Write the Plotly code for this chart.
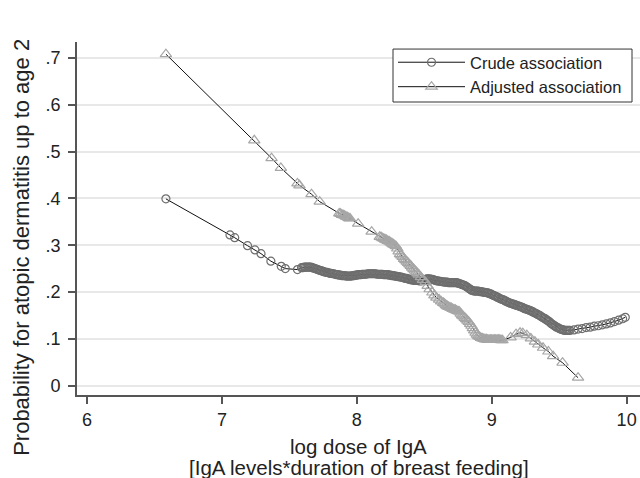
import plotly.graph_objects as go

# Crude association: log dose of IgA vs. predicted probability
crude_x = [
    6.585, 7.060, 7.095, 7.190, 7.245, 7.290, 7.363, 7.440, 7.470, 7.560, 7.590,
    7.60, 7.61, 7.62, 7.63, 7.64, 7.65, 7.66, 7.67, 7.68, 7.69,
    7.70, 7.71, 7.72, 7.73, 7.74, 7.75, 7.76, 7.77, 7.78, 7.79,
    7.80, 7.81, 7.82, 7.83, 7.84, 7.85, 7.86, 7.87, 7.88, 7.89,
    7.90, 7.91, 7.92, 7.93, 7.94, 7.95, 7.96, 7.97, 7.98, 7.99,
    8.00, 8.01, 8.02, 8.03, 8.04, 8.05, 8.06, 8.07, 8.08, 8.09,
    8.10, 8.11, 8.12, 8.13, 8.14, 8.15, 8.16, 8.17, 8.18, 8.19,
    8.20, 8.21, 8.22, 8.23, 8.24, 8.25, 8.26, 8.27, 8.28, 8.29,
    8.30, 8.31, 8.32, 8.33, 8.34, 8.35, 8.36, 8.37, 8.38, 8.39,
    8.40, 8.41, 8.42, 8.43, 8.44, 8.45, 8.46, 8.47, 8.48, 8.49,
    8.50, 8.51, 8.52, 8.53, 8.54, 8.55, 8.56, 8.57, 8.58, 8.59,
    8.60, 8.61, 8.62, 8.63, 8.64, 8.65, 8.66, 8.67, 8.68, 8.69,
    8.70, 8.71, 8.72, 8.73, 8.74, 8.75, 8.76, 8.77, 8.78, 8.79,
    8.80, 8.81, 8.82, 8.83, 8.84, 8.85, 8.86, 8.87, 8.88, 8.89,
    8.90, 8.91, 8.92, 8.93, 8.94, 8.95, 8.96, 8.97, 8.98, 8.99,
    9.00, 9.01, 9.02, 9.03, 9.04, 9.05, 9.06, 9.07, 9.08, 9.09,
    9.10, 9.11, 9.12, 9.13, 9.14, 9.15, 9.16, 9.17, 9.18, 9.19,
    9.20, 9.21, 9.22, 9.23, 9.24, 9.25, 9.26, 9.27, 9.28, 9.29,
    9.30, 9.31, 9.32, 9.33, 9.34, 9.35, 9.36, 9.37, 9.38, 9.39,
    9.40, 9.41, 9.42, 9.43, 9.44, 9.45, 9.46, 9.47, 9.48, 9.49,
    9.50, 9.51, 9.52, 9.53, 9.54, 9.55, 9.56, 9.57, 9.58,
    9.61, 9.64, 9.67, 9.70, 9.73, 9.76, 9.79, 9.82, 9.85, 9.88,
    9.91, 9.94, 9.97, 9.99,
]
crude_y = [
    0.399, 0.322, 0.316, 0.299, 0.290, 0.282, 0.266, 0.255, 0.250, 0.248, 0.252,
    0.252, 0.253, 0.253, 0.253, 0.253, 0.253, 0.253, 0.252, 0.251, 0.250,
    0.249, 0.248, 0.247, 0.246, 0.245, 0.244, 0.243, 0.242, 0.242, 0.241,
    0.240, 0.240, 0.239, 0.239, 0.238, 0.237, 0.237, 0.236, 0.236, 0.235,
    0.235, 0.235, 0.234, 0.234, 0.234, 0.234, 0.234, 0.235, 0.235, 0.236,
    0.236, 0.237, 0.237, 0.237, 0.238, 0.238, 0.238, 0.238, 0.239, 0.239,
    0.239, 0.239, 0.239, 0.239, 0.239, 0.238, 0.238, 0.238, 0.238, 0.238,
    0.237, 0.237, 0.237, 0.237, 0.236, 0.236, 0.235, 0.235, 0.234, 0.234,
    0.233, 0.233, 0.232, 0.232, 0.231, 0.230, 0.229, 0.229, 0.228, 0.227,
    0.226, 0.226, 0.225, 0.225, 0.225, 0.225, 0.224, 0.224, 0.224, 0.225,
    0.226, 0.227, 0.228, 0.228, 0.228, 0.227, 0.227, 0.226, 0.225, 0.224,
    0.224, 0.223, 0.223, 0.222, 0.222, 0.221, 0.221, 0.221, 0.220, 0.220,
    0.220, 0.220, 0.220, 0.220, 0.220, 0.219, 0.218, 0.217, 0.216, 0.215,
    0.214, 0.212, 0.210, 0.208, 0.206, 0.204, 0.203, 0.202, 0.202, 0.202,
    0.202, 0.201, 0.201, 0.200, 0.200, 0.199, 0.199, 0.198, 0.197, 0.196,
    0.195, 0.193, 0.192, 0.191, 0.189, 0.188, 0.186, 0.185, 0.184, 0.183,
    0.181, 0.180, 0.178, 0.177, 0.176, 0.175, 0.174, 0.173, 0.172, 0.171,
    0.170, 0.169, 0.168, 0.167, 0.165, 0.164, 0.163, 0.162, 0.161, 0.160,
    0.158, 0.157, 0.155, 0.154, 0.152, 0.151, 0.149, 0.147, 0.145, 0.144,
    0.142, 0.140, 0.138, 0.136, 0.133, 0.131, 0.129, 0.127, 0.125, 0.124,
    0.122, 0.121, 0.120, 0.119, 0.118, 0.118, 0.118, 0.118, 0.118,
    0.119, 0.121, 0.122, 0.124, 0.125, 0.127, 0.128, 0.130, 0.132, 0.134,
    0.137, 0.140, 0.143, 0.146,
]

# Adjusted association
adj_x = [
    6.585, 7.240, 7.368, 7.437, 7.560, 7.575, 7.664, 7.725,
    7.870, 7.880, 7.890, 7.900, 7.910, 7.920, 7.930, 7.940, 7.950,
    8.010, 8.110, 8.170, 8.180, 8.190, 8.200, 8.210, 8.220, 8.230,
    8.240, 8.250, 8.260, 8.270, 8.280, 8.290, 8.300, 8.310, 8.320,
    8.330, 8.340, 8.350, 8.360, 8.370, 8.380, 8.390, 8.400, 8.410,
    8.420, 8.430, 8.440, 8.450, 8.460, 8.475, 8.490, 8.510, 8.525,
    8.540, 8.560, 8.575, 8.590, 8.610, 8.625, 8.640, 8.650, 8.660,
    8.670, 8.680, 8.690, 8.700, 8.710, 8.720, 8.730, 8.740, 8.750,
    8.760, 8.770, 8.780, 8.790, 8.800, 8.810, 8.820, 8.830, 8.840,
    8.850, 8.860, 8.870, 8.880, 8.890, 8.900, 8.910, 8.920, 8.930,
    8.940, 8.950, 8.960, 8.970, 8.980, 8.990, 9.000, 9.010, 9.020,
    9.030, 9.040, 9.050, 9.060, 9.070, 9.080, 9.140, 9.180, 9.210,
    9.230, 9.260, 9.290, 9.320, 9.345, 9.380, 9.420, 9.455, 9.525,
    9.640,
]
adj_y = [
    0.708, 0.524, 0.486, 0.465, 0.432, 0.428, 0.409, 0.393,
    0.368, 0.367, 0.365, 0.364, 0.363, 0.361, 0.360, 0.358, 0.357,
    0.346, 0.329, 0.318, 0.317, 0.315, 0.314, 0.312, 0.311, 0.309,
    0.308, 0.306, 0.304, 0.302, 0.300, 0.298, 0.293, 0.287, 0.281,
    0.278, 0.275, 0.271, 0.268, 0.265, 0.262, 0.259, 0.256, 0.252,
    0.249, 0.246, 0.243, 0.240, 0.237, 0.232, 0.226, 0.221, 0.213,
    0.206, 0.199, 0.193, 0.188, 0.184, 0.180, 0.177, 0.175, 0.172,
    0.170, 0.168, 0.167, 0.166, 0.164, 0.163, 0.162, 0.160, 0.159,
    0.158, 0.154, 0.150, 0.148, 0.145, 0.142, 0.139, 0.136, 0.132,
    0.128, 0.123, 0.118, 0.113, 0.109, 0.106, 0.104, 0.102, 0.101,
    0.100, 0.099, 0.099, 0.098, 0.098, 0.098, 0.098, 0.098, 0.098,
    0.098, 0.098, 0.098, 0.098, 0.097, 0.097, 0.103, 0.110, 0.113,
    0.112, 0.108, 0.101, 0.094, 0.088, 0.081, 0.073, 0.063, 0.049,
    0.017,
]

x_ticks = [6, 7, 8, 9, 10]
y_ticks = [0, 0.1, 0.2, 0.3, 0.4, 0.5, 0.6, 0.7]
y_tick_text = ["0", ".1", ".2", ".3", ".4", ".5", ".6", ".7"]

FONT = "Liberation Sans, Arial, sans-serif"
TEXT = "#222222"
AXIS = "#555555"

fig = go.Figure()
fig.add_trace(go.Scatter(
    x=crude_x, y=crude_y, mode="lines+markers", name="Crude association",
    line=dict(color="#111111", width=1),
    marker=dict(symbol="circle-open", size=8, color="#6e6e6e", line=dict(width=1.2)),
))
fig.add_trace(go.Scatter(
    x=adj_x, y=adj_y, mode="lines+markers", name="Adjusted association",
    line=dict(color="#111111", width=1),
    marker=dict(symbol="triangle-up-open", size=10, color="#a6a6a6", line=dict(width=1.2)),
))

# Framed legend box (legend itself is drawn borderless on top of it)
fig.add_shape(
    type="rect", xref="paper", yref="paper",
    x0=0.5613, x1=0.9858, y0=0.830, y1=0.980,
    line=dict(color="#333333", width=1), fillcolor="white", layer="above",
)

fig.update_layout(
    width=640, height=478,
    margin=dict(l=77, r=0, t=42, b=83),
    paper_bgcolor="white", plot_bgcolor="white",
    font=dict(family=FONT, color=TEXT),
    showlegend=True,
    legend=dict(
        x=0.5613, y=0.9915, xanchor="left", yanchor="top",
        bgcolor="rgba(0,0,0,0)", borderwidth=0,
        font=dict(family=FONT, size=16.5, color=TEXT),
        itemwidth=67, tracegroupgap=0,
    ),
    xaxis=dict(
        range=[5.926, 10.099], tickvals=x_ticks, ticks="outside", ticklen=7,
        tickwidth=1.5, tickcolor=AXIS, showline=True, linecolor=AXIS, linewidth=2,
        showgrid=False, zeroline=False, tickfont=dict(size=18, color=TEXT),
    ),
    yaxis=dict(
        range=[-0.0199, 0.734], tickvals=y_ticks, ticktext=y_tick_text,
        ticks="outside", ticklen=7, tickwidth=1.5, tickcolor=AXIS,
        showline=True, linecolor=AXIS, linewidth=2, ticklabelstandoff=4,
        showgrid=True, gridcolor="#e8e8e8", gridwidth=1.5, zeroline=False,
        tickfont=dict(size=18, color=TEXT),
    ),
    annotations=[
        dict(text="log dose of IgA", xref="paper", yref="paper", x=0.5, y=0,
             xanchor="center", yanchor="middle", yshift=-51, showarrow=False,
             font=dict(size=20.5, color=TEXT)),
        dict(text="[IgA levels*duration of breast feeding]", xref="paper", yref="paper",
             x=0.5, y=0, xanchor="center", yanchor="middle", yshift=-72,
             showarrow=False, font=dict(size=20.5, color=TEXT)),
        dict(text="Probability for atopic dermatitis up to age 2", xref="paper",
             yref="paper", x=0, y=0.448, xanchor="center", yanchor="middle",
             xshift=-55, yshift=-11, textangle=-90, showarrow=False,
             font=dict(size=22, color=TEXT)),
    ],
)

fig.write_html("out.html")
